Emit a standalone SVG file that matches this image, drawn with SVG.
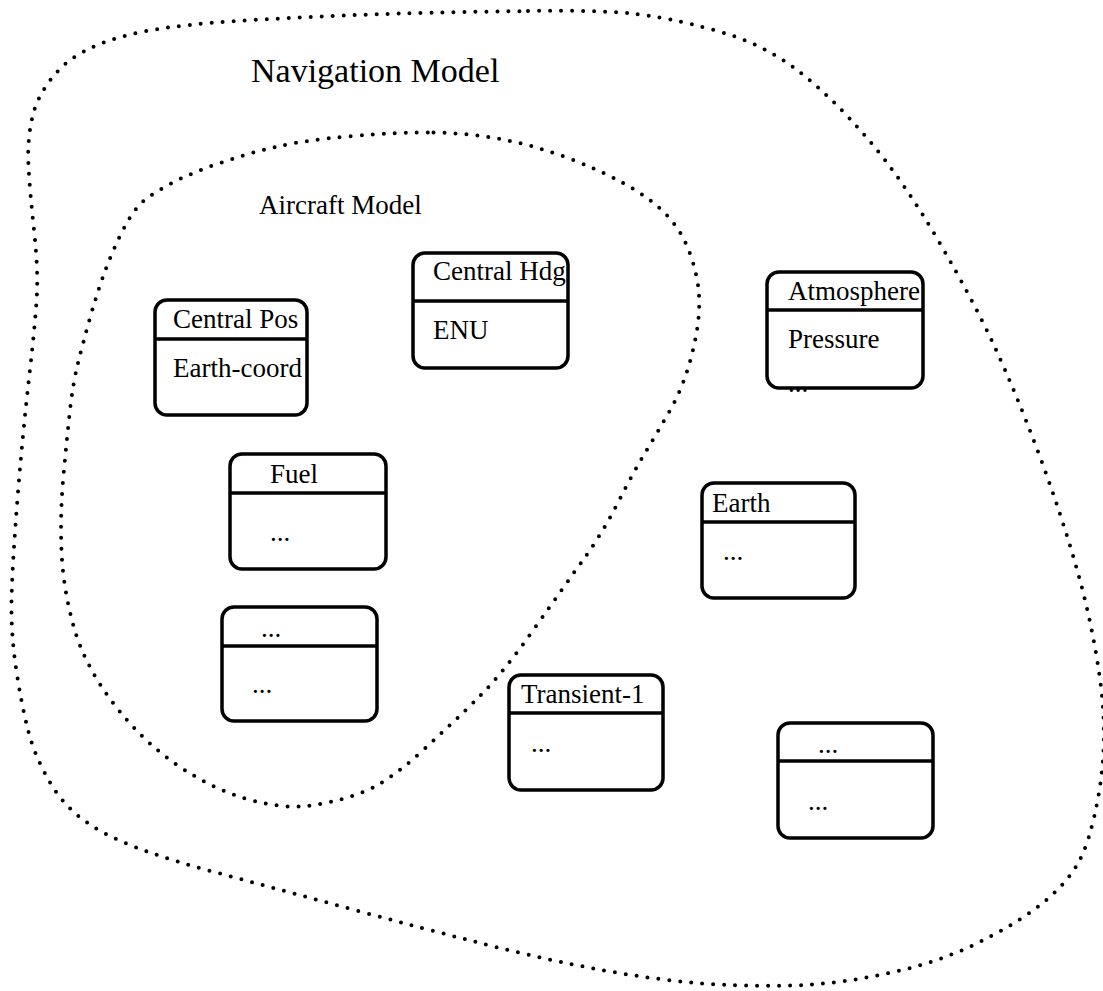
<svg xmlns="http://www.w3.org/2000/svg" width="1103" height="991" viewBox="0 0 1103 991">
<style>
.blob{fill:none;stroke:#000;stroke-width:4;stroke-dasharray:0 11;stroke-linecap:round;stroke-linejoin:round}
.box{fill:#fff;stroke:#000;stroke-width:3.5}
.div{stroke:#000;stroke-width:3.5}
text{font-family:"Liberation Serif","Times New Roman",serif;font-size:27px;fill:#000}
.big{font-size:34px}
</style>
<rect width="1103" height="991" fill="#fff"/>
<g id="navigation-model">
<path class="blob" d="M 528,11 Q 597,10 631.5,13.5 Q 666,17 714,30 Q 762,43 797,70 Q 832,97 867.5,138.5 Q 903,180 938,240 Q 973,300 994.5,346.5 Q 1016,393 1038.5,453 Q 1061,513 1077,569.5 Q 1093,626 1100.5,683 Q 1108,740 1099,792.5 Q 1090,845 1075.5,867.5 Q 1061,890 1035,909 Q 1009,928 973.5,945 Q 938,962 894,972 Q 850,982 806,985 Q 762,987 709,984 Q 656,980 601.5,970 Q 547,960 484,944 Q 421,928 351,909 Q 281,890 210.5,871 Q 140,852 105,833.5 Q 70,815 52.5,786.5 Q 35,758 28,730 Q 21,702 16,668 Q 11,634 11.5,602 Q 12,570 17,505 Q 22,440 29,378.5 Q 36,317 37,292 Q 38,267 34,230 Q 30,193 28.5,166.5 Q 27,140 32.5,116.5 Q 38,93 57.5,71.5 Q 77,50 119,37.5 Q 161,25 252.5,20 Q 344,15 401.5,13.5 Q 459,12 528,11 Z"/>
<text class="big" x="251" y="82">Navigation Model</text>
</g>
<g id="aircraft-model">
<path class="blob" d="M 433.5,132.5 Q 467,133 500,139 Q 533,145 566.5,157.5 Q 600,170 626.5,185 Q 653,200 668,216.5 Q 683,233 690.5,255 Q 698,277 699,295 Q 700,313 696.5,333 Q 693,353 686.5,373 Q 680,393 668.5,413 Q 657,433 645,453 Q 633,473 618,502.5 Q 603,532 585.5,556.5 Q 568,581 535.5,627 Q 503,673 479.5,696.5 Q 456,720 421,752 Q 386,784 359.5,793.5 Q 333,803 307,806 Q 281,809 245.5,798.5 Q 210,788 175,763.5 Q 140,739 112,701.5 Q 84,664 73.5,626 Q 63,588 61.5,550.5 Q 60,513 63.5,475 Q 67,437 70,410 Q 73,383 78,363 Q 83,343 90,318 Q 97,293 104.5,272.5 Q 112,252 122.5,231 Q 133,210 143,201.5 Q 153,193 172,183 Q 191,173 220,163 Q 249,153 277.5,146.5 Q 306,140 353,136 Q 400,132 433.5,132.5 Z"/>
<text x="259" y="214">Aircraft Model</text>
</g>
<g id="central-pos">
<rect class="box" x="155" y="300" width="152" height="115" rx="12"/>
<line class="div" x1="155" y1="339" x2="307" y2="339"/>
<text x="173" y="328">Central Pos</text>
<text x="173" y="377">Earth-coord</text>
</g>
<g id="central-hdg">
<rect class="box" x="413" y="253" width="155" height="115" rx="12"/>
<line class="div" x1="413" y1="301" x2="568" y2="301"/>
<text x="433" y="280">Central Hdg</text>
<text x="433" y="339">ENU</text>
</g>
<g id="atmosphere">
<rect class="box" x="767" y="272" width="156" height="116" rx="12"/>
<line class="div" x1="767" y1="310" x2="923" y2="310"/>
<text x="788" y="300">Atmosphere</text>
<text x="788" y="348">Pressure</text>
<text x="788" y="392">...</text>
</g>
<g id="fuel">
<rect class="box" x="230" y="454" width="156" height="115" rx="12"/>
<line class="div" x1="230" y1="493" x2="386" y2="493"/>
<text x="270" y="483">Fuel</text>
<text x="270" y="541">...</text>
</g>
<g id="aircraft-other">
<rect class="box" x="222" y="607" width="155" height="114" rx="12"/>
<line class="div" x1="222" y1="646" x2="377" y2="646"/>
<text x="261" y="637">...</text>
<text x="252" y="693">...</text>
</g>
<g id="earth">
<rect class="box" x="702" y="483" width="153" height="115" rx="12"/>
<line class="div" x1="702" y1="522" x2="855" y2="522"/>
<text x="712" y="512">Earth</text>
<text x="723" y="560">...</text>
</g>
<g id="transient-1">
<rect class="box" x="509" y="675" width="154" height="115" rx="12"/>
<line class="div" x1="509" y1="713" x2="663" y2="713"/>
<text x="521" y="703">Transient-1</text>
<text x="531" y="752">...</text>
</g>
<g id="navigation-other">
<rect class="box" x="778" y="723" width="155" height="115" rx="12"/>
<line class="div" x1="778" y1="761" x2="933" y2="761"/>
<text x="818" y="753">...</text>
<text x="808" y="810">...</text>
</g>
<g id="connectors"/>
</svg>
